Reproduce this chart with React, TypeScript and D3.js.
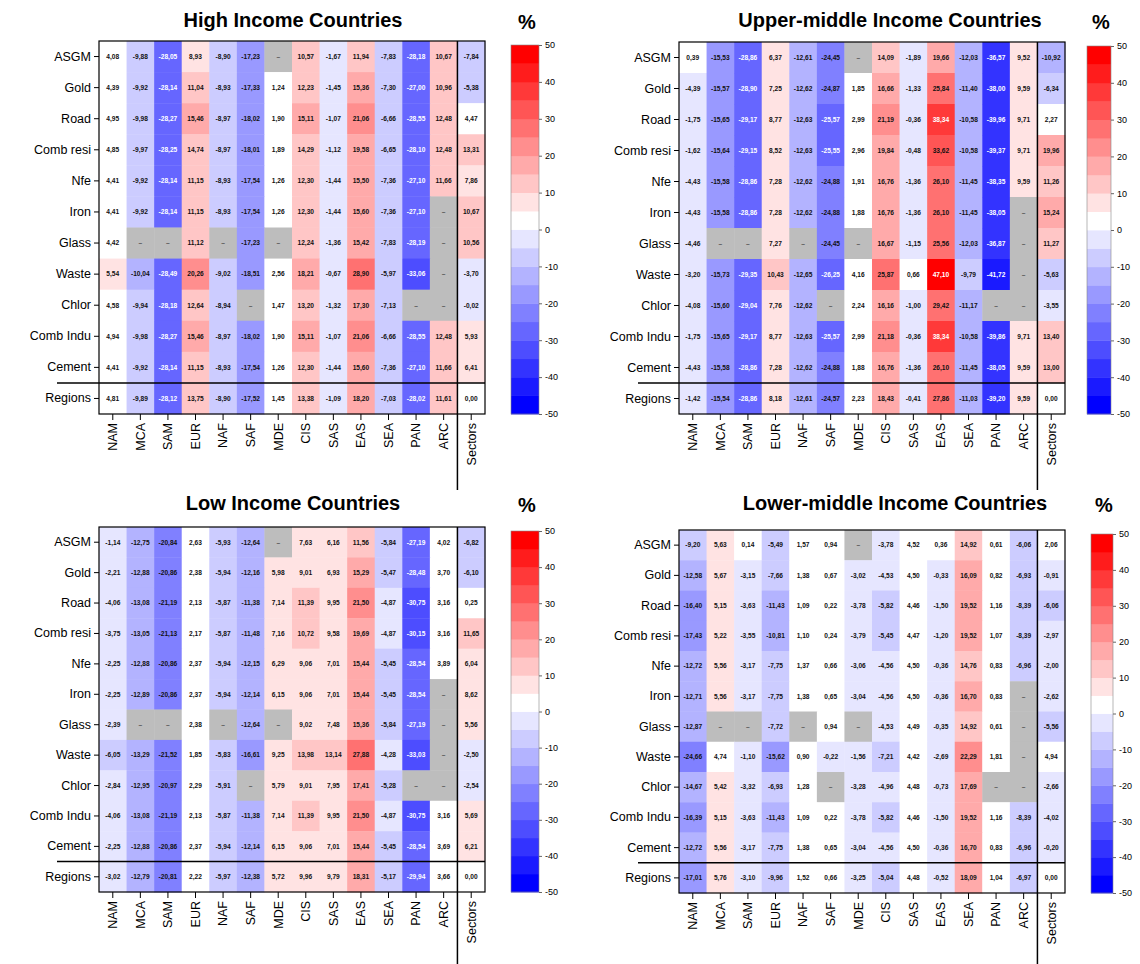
import { useEffect, useRef } from "react";
import * as d3 from "d3";

// column and row categories
const regions = ["NAM", "MCA", "SAM", "EUR", "NAF", "SAF", "MDE", "CIS", "SAS", "EAS", "SEA", "PAN", "ARC"];
const sectors = ["ASGM", "Gold", "Road", "Comb resi", "Nfe", "Iron", "Glass", "Waste", "Chlor", "Comb Indu", "Cement"];
const colorTicks = [50, 40, 30, 20, 10, 0, -10, -20, -30, -40, -50];

// each row: 13 regions then the "Sectors" column; null = no data
const highIncome: (number | null)[][] = [
  [4.08, -9.88, -28.05, 8.93, -8.9, -17.23, null, 10.57, -1.67, 11.94, -7.83, -28.18, 10.67, -7.84],
  [4.39, -9.92, -28.14, 11.04, -8.93, -17.33, 1.24, 12.23, -1.45, 15.36, -7.3, -27.0, 10.96, -5.38],
  [4.95, -9.98, -28.27, 15.46, -8.97, -18.02, 1.9, 15.11, -1.07, 21.06, -6.66, -28.55, 12.48, 4.47],
  [4.85, -9.97, -28.25, 14.74, -8.97, -18.01, 1.89, 14.29, -1.12, 19.58, -6.65, -28.1, 12.48, 13.31],
  [4.41, -9.92, -28.14, 11.15, -8.93, -17.54, 1.26, 12.3, -1.44, 15.5, -7.36, -27.1, 11.66, 7.86],
  [4.41, -9.92, -28.14, 11.15, -8.93, -17.54, 1.26, 12.3, -1.44, 15.6, -7.36, -27.1, null, 10.67],
  [4.42, null, null, 11.12, null, -17.23, null, 12.24, -1.36, 15.42, -7.83, -28.19, null, 10.56],
  [5.54, -10.04, -28.49, 20.26, -9.02, -18.51, 2.56, 18.21, -0.67, 28.9, -5.97, -33.06, null, -3.7],
  [4.58, -9.94, -28.18, 12.64, -8.94, null, 1.47, 13.2, -1.32, 17.3, -7.13, null, null, -0.02],
  [4.94, -9.98, -28.27, 15.46, -8.97, -18.02, 1.9, 15.11, -1.07, 21.06, -6.66, -28.55, 12.48, 5.93],
  [4.41, -9.92, -28.14, 11.15, -8.93, -17.54, 1.26, 12.3, -1.44, 15.6, -7.36, -27.1, 11.66, 6.41],
  [4.81, -9.89, -28.12, 13.75, -8.9, -17.52, 1.45, 13.38, -1.09, 18.2, -7.03, -28.02, 11.61, 0.0],
];

const upperMiddle: (number | null)[][] = [
  [0.39, -15.53, -28.86, 6.37, -12.61, -24.45, null, 14.09, -1.89, 19.66, -12.03, -36.57, 9.52, -10.92],
  [-4.39, -15.57, -28.9, 7.25, -12.62, -24.87, 1.85, 16.66, -1.33, 25.84, -11.4, -38.0, 9.59, -6.34],
  [-1.75, -15.65, -29.17, 8.77, -12.63, -25.57, 2.99, 21.19, -0.36, 38.34, -10.58, -39.96, 9.71, 2.27],
  [-1.62, -15.64, -29.15, 8.52, -12.63, -25.55, 2.96, 19.84, -0.48, 33.62, -10.58, -39.37, 9.71, 19.96],
  [-4.43, -15.58, -28.86, 7.28, -12.62, -24.88, 1.91, 16.76, -1.36, 26.1, -11.45, -38.35, 9.59, 11.26],
  [-4.43, -15.58, -28.86, 7.28, -12.62, -24.88, 1.88, 16.76, -1.36, 26.1, -11.45, -38.05, null, 15.24],
  [-4.46, null, null, 7.27, null, -24.45, null, 16.67, -1.15, 25.56, -12.03, -36.87, null, 11.27],
  [-3.2, -15.73, -29.35, 10.43, -12.65, -26.25, 4.16, 25.87, 0.66, 47.1, -9.79, -41.72, null, -5.63],
  [-4.08, -15.6, -29.04, 7.76, -12.62, null, 2.24, 16.16, -1.0, 29.42, -11.17, null, null, -3.55],
  [-1.75, -15.65, -29.17, 8.77, -12.63, -25.57, 2.99, 21.18, -0.36, 38.34, -10.58, -39.86, 9.71, 13.4],
  [-4.43, -15.58, -28.86, 7.28, -12.62, -24.88, 1.88, 16.76, -1.36, 26.1, -11.45, -38.05, 9.59, 13.0],
  [-1.42, -15.54, -28.86, 8.18, -12.61, -24.57, 2.23, 18.43, -0.41, 27.86, -11.03, -39.2, 9.59, 0.0],
];

const lowIncome: (number | null)[][] = [
  [-1.14, -12.75, -20.84, 2.63, -5.93, -12.64, null, 7.63, 6.16, 11.56, -5.84, -27.19, 4.02, -6.82],
  [-2.21, -12.88, -20.86, 2.38, -5.94, -12.16, 5.98, 9.01, 6.93, 15.29, -5.47, -28.48, 3.7, -6.1],
  [-4.06, -13.08, -21.19, 2.13, -5.87, -11.38, 7.14, 11.39, 9.95, 21.5, -4.87, -30.75, 3.16, 0.25],
  [-3.75, -13.05, -21.13, 2.17, -5.87, -11.48, 7.16, 10.72, 9.58, 19.69, -4.87, -30.15, 3.16, 11.65],
  [-2.25, -12.88, -20.86, 2.37, -5.94, -12.15, 6.29, 9.06, 7.01, 15.44, -5.45, -28.54, 3.89, 6.04],
  [-2.25, -12.89, -20.86, 2.37, -5.94, -12.14, 6.15, 9.06, 7.01, 15.44, -5.45, -28.54, null, 8.62],
  [-2.39, null, null, 2.38, null, -12.64, null, 9.02, 7.48, 15.36, -5.84, -27.19, null, 5.56],
  [-6.05, -13.29, -21.52, 1.85, -5.83, -16.61, 9.25, 13.98, 13.14, 27.88, -4.28, -33.03, null, -2.5],
  [-2.84, -12.95, -20.97, 2.29, -5.91, null, 5.79, 9.01, 7.95, 17.41, -5.28, null, null, -2.54],
  [-4.06, -13.08, -21.19, 2.13, -5.87, -11.38, 7.14, 11.39, 9.95, 21.5, -4.87, -30.75, 3.16, 5.69],
  [-2.25, -12.88, -20.86, 2.37, -5.94, -12.14, 6.15, 9.06, 7.01, 15.44, -5.45, -28.54, 3.69, 6.21],
  [-3.02, -12.79, -20.81, 2.22, -5.97, -12.38, 5.72, 9.96, 9.79, 18.31, -5.17, -29.94, 3.66, 0.0],
];

const lowerMiddle: (number | null)[][] = [
  [-9.2, 5.63, 0.14, -5.49, 1.57, 0.94, null, -3.78, 4.52, 0.36, 14.92, 0.61, -6.06, 2.06],
  [-12.58, 5.67, -3.15, -7.66, 1.38, 0.67, -3.02, -4.53, 4.5, -0.33, 16.09, 0.82, -6.93, -0.91],
  [-16.4, 5.15, -3.63, -11.43, 1.09, 0.22, -3.78, -5.82, 4.46, -1.5, 19.52, 1.16, -8.39, -6.06],
  [-17.43, 5.22, -3.55, -10.81, 1.1, 0.24, -3.79, -5.45, 4.47, -1.2, 19.52, 1.07, -8.39, -2.97],
  [-12.72, 5.56, -3.17, -7.75, 1.37, 0.66, -3.06, -4.56, 4.5, -0.36, 14.76, 0.83, -6.96, -2.0],
  [-12.71, 5.56, -3.17, -7.75, 1.38, 0.65, -3.04, -4.56, 4.5, -0.36, 16.7, 0.83, null, -2.62],
  [-12.87, null, null, -7.72, null, 0.94, null, -4.53, 4.49, -0.35, 14.92, 0.61, null, -5.56],
  [-24.66, 4.74, -1.1, -15.62, 0.9, -0.22, -1.56, -7.21, 4.42, -2.69, 22.29, 1.81, null, 4.94],
  [-14.67, 5.42, -3.32, -6.93, 1.28, null, -3.28, -4.96, 4.48, -0.73, 17.69, null, null, -2.66],
  [-16.39, 5.15, -3.63, -11.43, 1.09, 0.22, -3.78, -5.82, 4.46, -1.5, 19.52, 1.16, -8.39, -4.02],
  [-12.72, 5.56, -3.17, -7.75, 1.38, 0.65, -3.04, -4.56, 4.5, -0.36, 16.7, 0.83, -6.96, -0.2],
  [-17.01, 5.76, -3.1, -9.96, 1.52, 0.66, -3.25, -5.04, 4.48, -0.52, 18.09, 1.04, -6.97, 0.0],
];

const panels = [
  { title: "High Income Countries", values: highIncome, x: 99, y: 41, h: 373, titleX: 293, titleY: 27, barX: 511, barW: 28, lineLeft: 57 },
  { title: "Upper-middle Income Countries", values: upperMiddle, x: 679, y: 42, h: 372, titleX: 890, titleY: 27, barX: 1087, barW: 24, lineLeft: 638 },
  { title: "Low Income Countries", values: lowIncome, x: 99, y: 527, h: 365, titleX: 293, titleY: 510, barX: 511, barW: 28, lineLeft: 57 },
  { title: "Lower-middle Income Countries", values: lowerMiddle, x: 679, y: 530, h: 363, titleX: 895, titleY: 510, barX: 1091, barW: 22, lineLeft: 638 },
];

const FONT = "'Liberation Sans', Arial, sans-serif";

export default function App() {
  const svgRef = useRef(null);

  useEffect(() => {
    const svg = d3.select(svgRef.current);
    svg.selectAll("*").remove();

    const fmt = d3
      .formatLocale({ decimal: ",", thousands: ".", grouping: [3], currency: ["", ""], minus: "-" })
      .format(".2f");

    // 20 bins of 5 %, white -> blue below 0, white -> red above 0
    const bins = d3.range(20).map((i) =>
      i < 10
        ? d3.interpolateRgb("#ffffff", "#0000ff")((10 - i) / 10)
        : d3.interpolateRgb("#ffffff", "#ff0000")((i - 10) / 9)
    );
    const color = d3.scaleQuantize<string>().domain([-50, 50]).range(bins);

    const cols = [...regions, "Sectors"];
    const rowNames = [...sectors, "Regions"];
    const gridW = 386;

    panels.forEach((p) => {
      const g = svg.append("g").style("font-family", FONT);
      const x = d3.scaleBand().domain(cols).range([p.x, p.x + gridW]);
      const y = d3.scaleBand().domain(rowNames).range([p.y, p.y + p.h]);

      const cells = p.values.flatMap((row, i) =>
        row.map((v, j) => ({ r: rowNames[i], c: cols[j], v }))
      );

      g.selectAll("rect.cell")
        .data(cells)
        .join("rect")
        .attr("class", "cell")
        .attr("x", (d) => x(d.c) || 0)
        .attr("y", (d) => y(d.r) || 0)
        .attr("width", x.bandwidth() + 0.4)
        .attr("height", y.bandwidth() + 0.4)
        .attr("fill", (d) => (d.v === null ? "#bdbdbd" : color(d.v)));

      g.selectAll("text.val")
        .data(cells)
        .join("text")
        .attr("class", "val")
        .attr("x", (d) => (x(d.c) || 0) + x.bandwidth() / 2)
        .attr("y", (d) => (y(d.r) || 0) + y.bandwidth() / 2)
        .attr("dy", "0.35em")
        .attr("text-anchor", "middle")
        .attr("font-size", 6.6)
        .attr("font-weight", "bold")
        .attr("fill", (d) =>
          d.v === null ? "#555" : d.v <= -25.5 || d.v >= 35 ? "#fff" : "#111"
        )
        .text((d) => (d.v === null ? "–" : fmt(d.v)));

      // frame and separators
      g.append("rect")
        .attr("x", p.x)
        .attr("y", p.y)
        .attr("width", gridW)
        .attr("height", p.h)
        .attr("fill", "none")
        .attr("stroke", "#000")
        .attr("stroke-width", 1.2);

      const sepX = x("Sectors") || 0;
      const sepY = y("Regions") || 0;
      g.append("line")
        .attr("x1", sepX)
        .attr("x2", sepX)
        .attr("y1", p.y)
        .attr("y2", p.y + p.h + 76)
        .attr("stroke", "#000")
        .attr("stroke-width", 1.5);
      g.append("line")
        .attr("x1", p.lineLeft)
        .attr("x2", p.x + gridW)
        .attr("y1", sepY)
        .attr("y2", sepY)
        .attr("stroke", "#000")
        .attr("stroke-width", 1.5);

      // axes
      const ay = g
        .append("g")
        .attr("transform", `translate(${p.x},0)`)
        .call(d3.axisLeft(y).tickSize(5).tickPadding(3));
      ay.select(".domain").remove();
      ay.selectAll("text").attr("font-size", 12.5).attr("font-family", FONT).attr("fill", "#000");

      const ax = g
        .append("g")
        .attr("transform", `translate(0,${p.y + p.h})`)
        .call(d3.axisBottom(x).tickSize(6));
      ax.select(".domain").remove();
      ax.selectAll("text")
        .attr("font-size", 12.5)
        .attr("font-family", FONT)
        .attr("fill", "#000")
        .attr("transform", "rotate(-90)")
        .attr("x", -9)
        .attr("y", 0)
        .attr("dy", "0.35em")
        .attr("text-anchor", "end");

      // title
      g.append("text")
        .attr("x", p.titleX)
        .attr("y", p.titleY)
        .attr("text-anchor", "middle")
        .attr("font-size", 20)
        .attr("font-weight", "bold")
        .text(p.title);

      // colour bar
      const cy = d3.scaleLinear().domain([-50, 50]).range([p.y + p.h, p.y + 4]);
      g.selectAll("rect.bin")
        .data(bins)
        .join("rect")
        .attr("class", "bin")
        .attr("x", p.barX)
        .attr("y", (_, i) => cy(-50 + (i + 1) * 5))
        .attr("width", p.barW)
        .attr("height", cy(0) - cy(5) + 0.4)
        .attr("fill", (d) => d);
      g.append("rect")
        .attr("x", p.barX)
        .attr("y", cy(50))
        .attr("width", p.barW)
        .attr("height", cy(-50) - cy(50))
        .attr("fill", "none")
        .attr("stroke", "#888")
        .attr("stroke-width", 0.6);
      const ac = g
        .append("g")
        .attr("transform", `translate(${p.barX + p.barW},0)`)
        .call(d3.axisRight(cy).tickValues(colorTicks).tickSize(3).tickFormat(d3.format("d")));
      ac.select(".domain").remove();
      ac.selectAll("line").attr("stroke", "#666");
      ac.selectAll("text").attr("font-size", 9).attr("font-family", FONT).attr("fill", "#000")
        .text((d: any) => (d < 0 ? "-" + Math.abs(d) : String(d)));

      g.append("text")
        .attr("x", p.barX + p.barW / 2 + 2)
        .attr("y", p.titleY + 2)
        .attr("text-anchor", "middle")
        .attr("font-size", 20)
        .attr("font-weight", "bold")
        .text("%");
    });
  }, []);

  return (
    <svg
      ref={svgRef}
      width={1140}
      height={964}
      style={{ position: "absolute", left: 0, top: 0, background: "#fff" }}
    ></svg>
  );
}
